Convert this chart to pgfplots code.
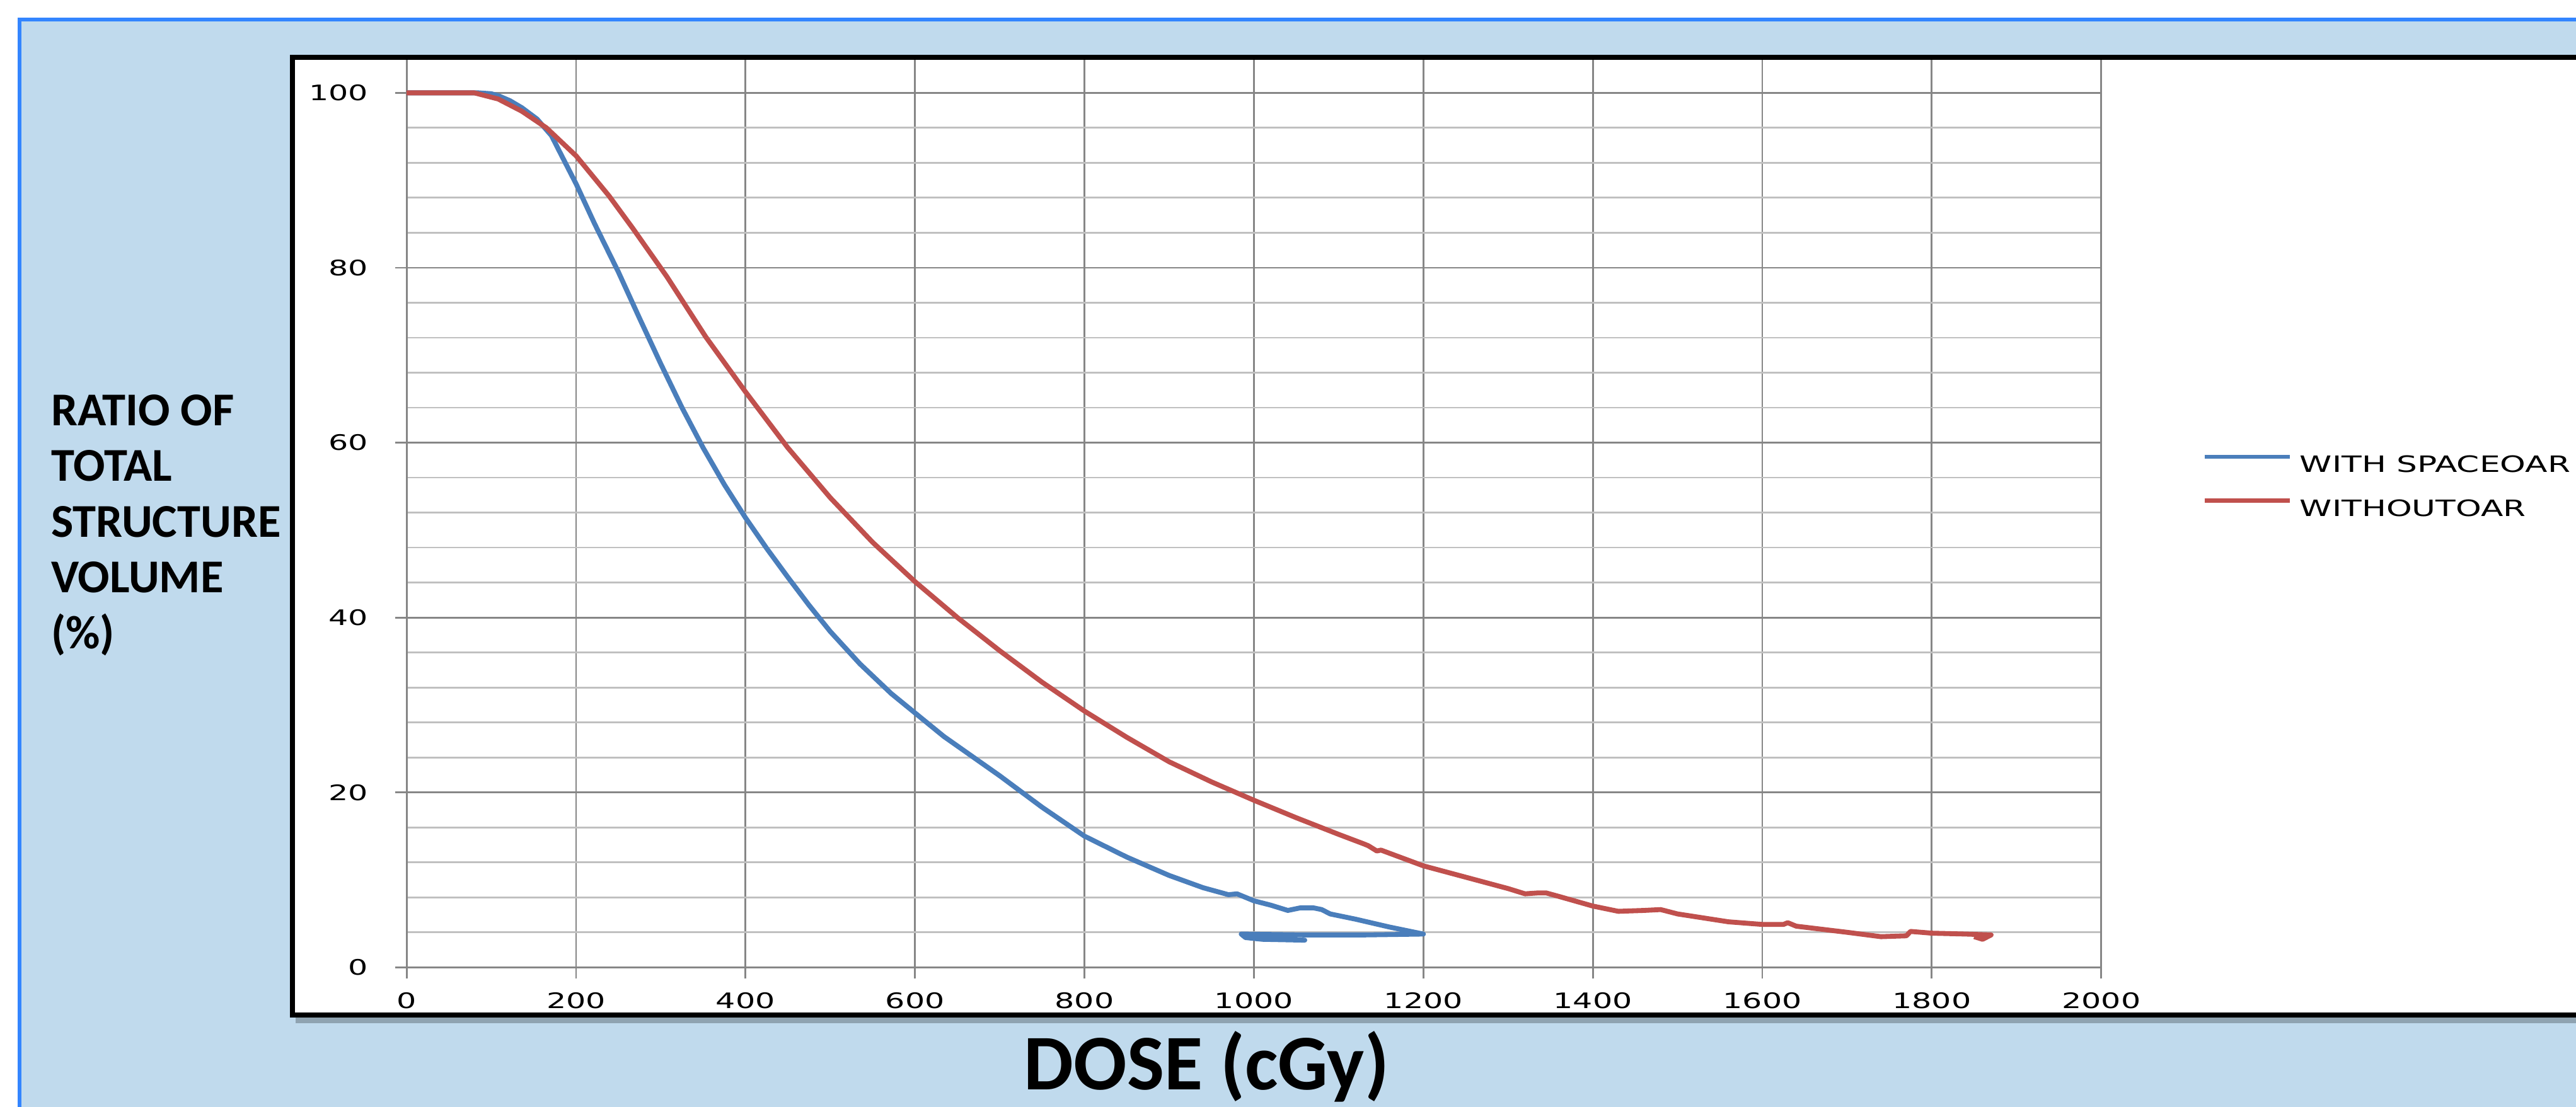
\documentclass[border=0pt]{standalone}
\usepackage{pgfplots}
\pgfplotsset{compat=1.18}
\usepackage{graphicx}
\usepackage{fontspec}
\setmainfont{Carlito}
\newfontfamily\tickfont{DejaVu Sans}
\definecolor{bgblue}{RGB}{192,218,237}
\definecolor{bordblue}{RGB}{51,133,255}
\definecolor{gridmaj}{RGB}{134,134,134}
\definecolor{gridmin}{RGB}{192,192,192}
\definecolor{serblue}{RGB}{74,126,187}
\definecolor{serred}{RGB}{192,80,77}
\newcommand{\ts}[1]{\scalebox{1.45}[1]{\tickfont\fontsize{7.4}{8}\selectfont #1}}
\newcommand{\ls}[1]{\scalebox{1.45}[1]{\tickfont\fontsize{7.8}{9}\selectfont #1}}
\begin{document}
\begin{tikzpicture}
\path[use as bounding box] (0,0) rectangle (313.6mm,134.8mm);
\fill[white] (0,0) rectangle (313.6mm,134.8mm);
\fill[bgblue] (2.4mm,-5mm) rectangle (330mm,132.4mm);
\draw[bordblue, line width=0.45mm] (2.4mm,-5mm) -- (2.4mm,132.4mm) -- (330mm,132.4mm);
\fill[white] (35.6mm,11.2mm) rectangle (330mm,127.8mm);
\fill[black, opacity=0.25] (36mm,10.2mm) rectangle (330mm,10.9mm);
\begin{axis}[
  at={(49.5mm,17mm)}, anchor=south west,
  scale only axis, width=206.3mm, height=110.75mm,
  xmin=0, xmax=2000, ymin=0, ymax=104,
  xtick={0,200,...,2000}, ytick={0,20,...,100},
  minor y tick num=4,
  xticklabels={\ts{0},\ts{200},\ts{400},\ts{600},\ts{800},\ts{1000},\ts{1200},\ts{1400},\ts{1600},\ts{1800},\ts{2000}},
  yticklabels={\ts{0},\ts{20},\ts{40},\ts{60},\ts{80},\ts{100}},
  grid=both,
  major grid style={draw=gridmaj, line width=0.22mm},
  minor grid style={draw=gridmin, line width=0.22mm},
  axis line style={draw=gridmaj, line width=0.22mm},
  tick align=outside, tick pos=left,
  major tick length=1.4mm, minor tick length=0pt,
  major tick style={draw=gridmaj, line width=0.22mm},
  xticklabel style={anchor=north, inner sep=0pt, yshift=-1.6mm},
  yticklabel style={anchor=east, inner sep=0pt, xshift=-3.2mm},
  legend style={at={(1.0597,0.5298)}, anchor=west, draw=none, fill=none, inner sep=0pt,
    row sep=3.2mm, column sep=1.0mm, nodes={inner sep=0pt, anchor=west, text height=2mm, text depth=0pt}},
  legend cell align=left,
  legend image code/.code={\draw[#1, line width=0.5mm] (0mm,0.9mm) -- (10.3mm,0.9mm);},
]
\addplot[serblue, line width=0.6mm, line join=round] coordinates {
(0,100)(60,100)(85,100)(100,99.9)(110,99.6)(122,99.1)(136,98.3)(154,97)(171,95.1)(182,93)(200,89.6)(222,85)(250,79.5)(275,74.2)(300,69.0)(325,64.0)(350,59.4)(375,55.2)(400,51.4)(425,47.9)(450,44.6)(475,41.4)(500,38.4)(535,34.7)(572,31.3)(634,26.4)(700,21.9)(750,18.3)(800,15.0)(850,12.6)(900,10.5)(940,9.1)(970,8.3)(980,8.4)(1000,7.6)(1020,7.1)(1040,6.5)(1055,6.8)(1070,6.8)(1080,6.6)(1090,6.1)(1100,5.9)(1120,5.5)(1160,4.6)(1200,3.8)(1130,3.7)(1060,3.7)(985,3.8)(990,3.4)(1010,3.2)(1060,3.1)(1020,3.2)
};
\addlegendentry{\ls{WITH SPACEOAR}}
\addplot[serred, line width=0.6mm, line join=round] coordinates {
(0,100)(80,100)(108,99.3)(136,97.9)(165,96)(200,92.8)(239,88.2)(267,84.5)(307,79)(353,72.1)(400,65.8)(450,59.4)(500,53.7)(550,48.6)(600,44.1)(650,40.0)(700,36.2)(750,32.6)(800,29.3)(850,26.3)(900,23.5)(950,21.2)(1000,19.1)(1050,17.1)(1100,15.2)(1130,14.1)(1135,13.9)(1145,13.3)(1150,13.4)(1200,11.6)(1250,10.3)(1300,9.0)(1320,8.4)(1335,8.5)(1345,8.5)(1360,8.1)(1400,7.0)(1430,6.4)(1460,6.5)(1480,6.6)(1500,6.1)(1560,5.2)(1600,4.9)(1625,4.9)(1630,5.1)(1640,4.7)(1700,4.0)(1740,3.5)(1770,3.6)(1775,4.1)(1800,3.9)(1840,3.8)(1870,3.7)(1860,3.2)(1850,3.5)
};
\addlegendentry{\ls{WITHOUTOAR}}
\end{axis}
\draw[black, line width=0.65mm] (330mm,127.8mm) -- (35.6mm,127.8mm) -- (35.6mm,11.2mm) -- (330mm,11.2mm);
\begin{scope}[every node/.style={anchor=base west, inner sep=0pt, font=\bfseries\fontsize{16.3}{19}\selectfont}]
\node at (6.16mm,83mm) {RATIO OF};
\node at (6.16mm,76.2mm) {TOTAL};
\node at (6.16mm,69.4mm) {STRUCTURE};
\node at (6.16mm,62.6mm) {VOLUME};
\node at (6.16mm,55.8mm) {(\%)};
\end{scope}
\node[anchor=base, inner sep=0pt, font=\bfseries\fontsize{27.3}{30}\selectfont] at (146.9mm,2.1mm) {DOSE (cGy)};
\end{tikzpicture}
\end{document}
